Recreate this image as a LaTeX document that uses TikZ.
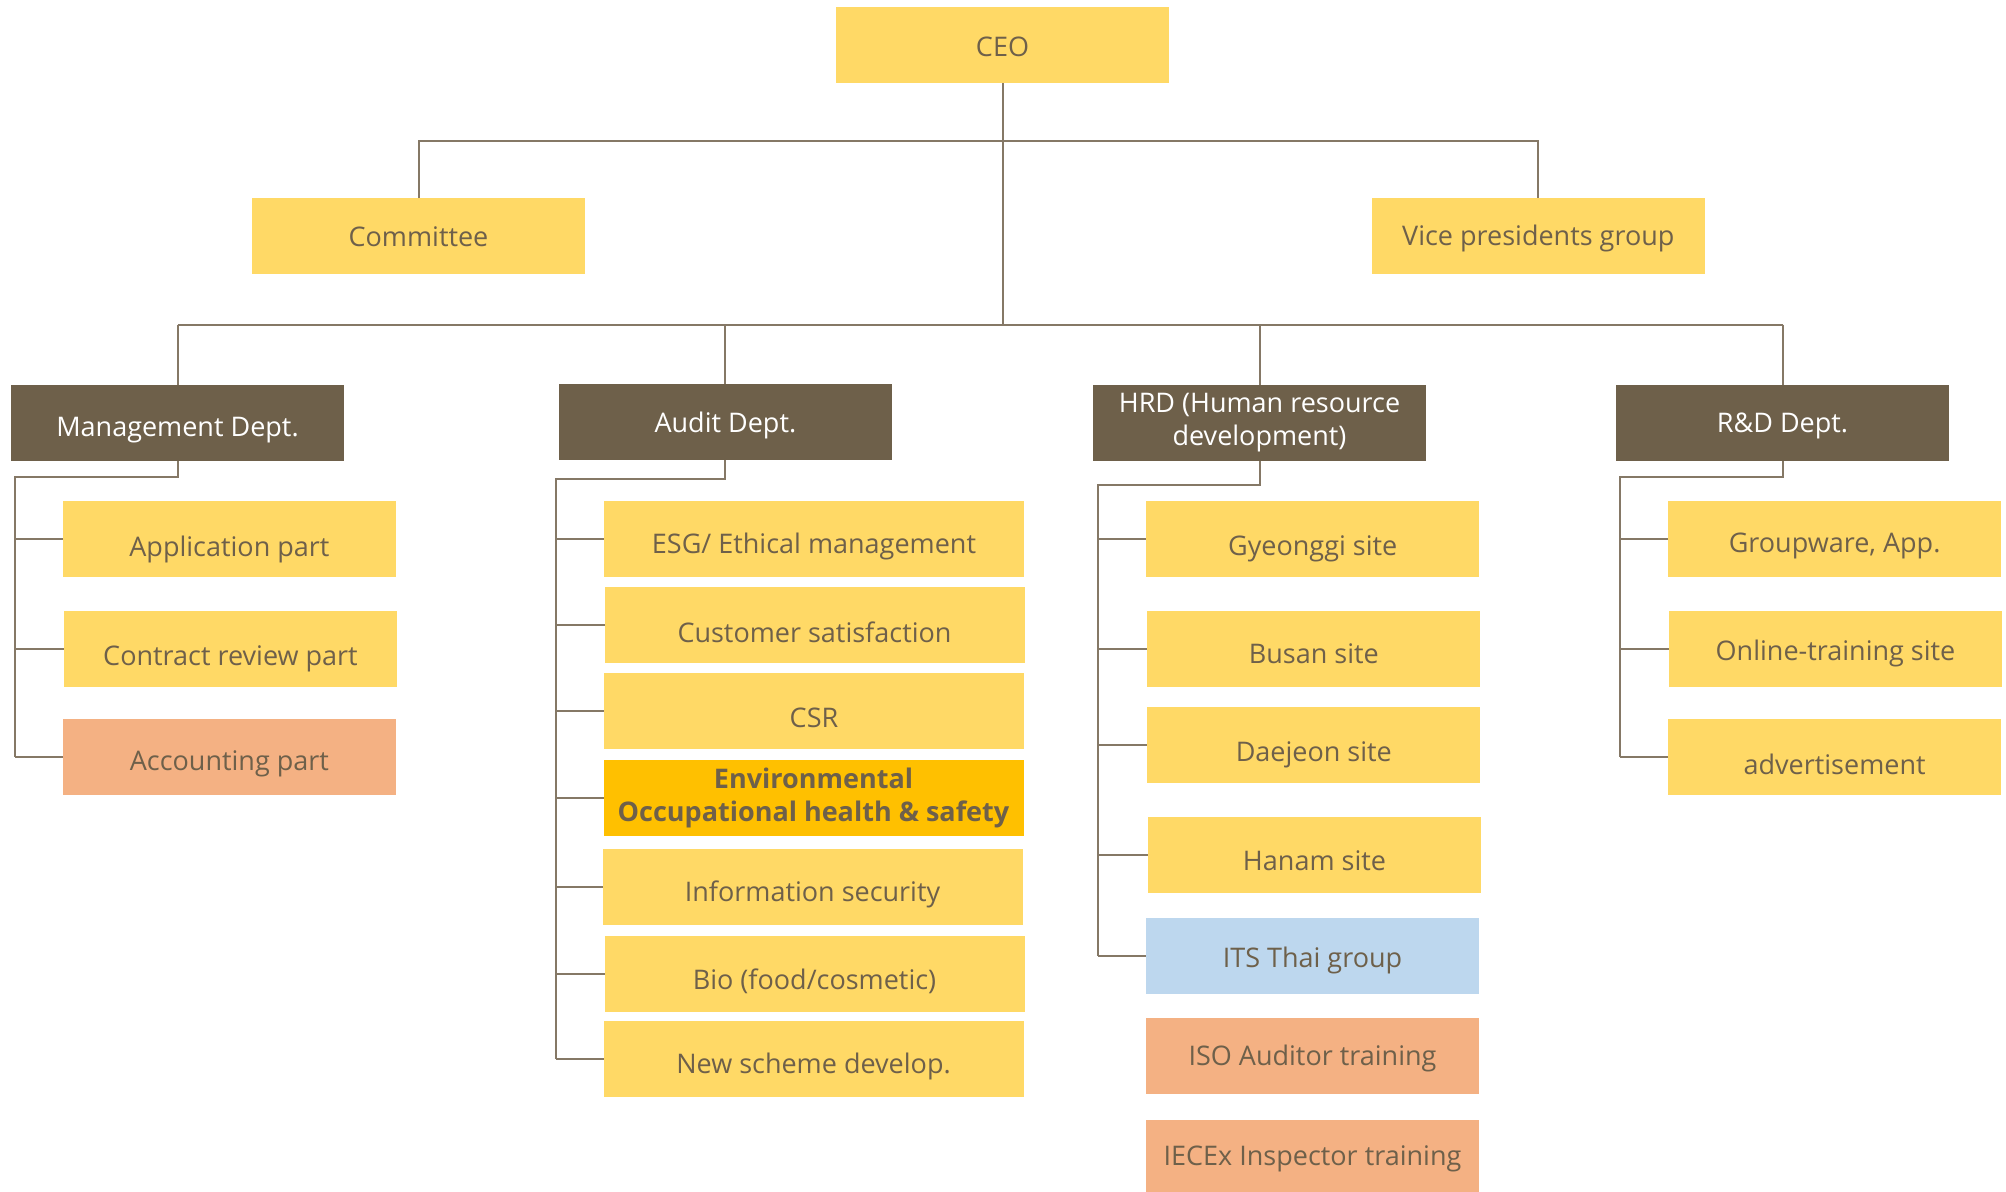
\documentclass[tikz,border=0pt]{standalone}
\usepackage{fontspec}
\setmainfont{Open Sans}
\definecolor{yel}{HTML}{FFD966}
\definecolor{org}{HTML}{F4B183}
\definecolor{amb}{HTML}{FFC000}
\definecolor{blu}{HTML}{BDD7EE}
\definecolor{brn}{HTML}{6E604A}
\definecolor{txt}{HTML}{6E604A}
\definecolor{ln}{HTML}{857866}
\begin{document}
\begin{tikzpicture}[x=0.5pt,y=-0.5pt,
  box/.style={minimum width=166.5pt, minimum height=38pt, inner sep=0pt, outer sep=0pt, fill=yel},
  wbox/.style={box, minimum width=210pt},
  dept/.style={box, fill=brn},
  conn/.style={draw=ln, line width=1pt},
  fnt/.style={font=\fontsize{13.5}{16.5}\selectfont, align=center, inner sep=0pt},
  lbl/.style={fnt, text=txt, yshift=-3.5pt},
  lblc/.style={fnt, text=txt, yshift=-1pt},
  lblw/.style={fnt, text=white, yshift=-1pt},
  lblb/.style={fnt, text=txt, font=\bfseries\fontsize{13.5}{16.5}\selectfont}
]
\useasboundingbox (0,0) rectangle (2006,1191);
% top
\node[box, label={[lblc]center:CEO}] (ceo) at (1002.5,45) {};
\node[box, label={[lblc,yshift=0.5pt]center:Committee}] (com) at (418.5,236) {};
\node[box, label={[lblc]center:Vice presidents group}] (vp) at (1538.3,236) {};
% departments
\node[dept, label={[lblw,yshift=-2.5pt]center:Management Dept.}] (mgmt) at (177.5,423) {};
\node[dept, label={[lblw,yshift=-0.5pt]center:Audit Dept.}] (aud) at (725.4,422) {};
\node[dept, label={[lblw,yshift=1pt]center:HRD (Human resource\\development)}] (hrd) at (1259.5,423) {};
\node[dept, label={[lblw,yshift=-0.5pt]center:R\&D Dept.}] (rd) at (1782.5,423) {};
% management children
\node[box, label={[lbl,yshift=-1.5pt]center:Application part}] (app) at (229.4,539) {};
\node[box, label={[lbl,yshift=-1.5pt]center:Contract review part}] (con) at (230.5,649) {};
\node[box, fill=org, label={[lbl]center:Accounting part}] (acc) at (229.4,757) {};
% audit children
\node[wbox, label={[lbl]center:ESG/ Ethical management}] (esg) at (814,539.3) {};
\node[wbox, label={[lbl]center:Customer satisfaction}] (cus) at (814.5,625) {};
\node[wbox, label={[lbl]center:CSR}] (csr) at (814,711) {};
\node[wbox, fill=amb, label={[lblb]center:Environmental\\Occupational health \& safety}] (env) at (813.5,798) {};
\node[wbox, label={[lbl]center:Information security}] (inf) at (812.5,887) {};
\node[wbox, label={[lbl]center:Bio (food/cosmetic)}] (bio) at (814.5,974) {};
\node[wbox, label={[lbl]center:New scheme develop.}] (new) at (813.5,1059) {};
% HRD children
\node[box, label={[lbl,yshift=-1.5pt]center:Gyeonggi site}] (gye) at (1312.7,539) {};
\node[box, label={[lbl,yshift=1pt]center:Busan site}] (bus) at (1313.8,649) {};
\node[box, label={[lbl,yshift=-1.5pt]center:Daejeon site}] (dae) at (1313.8,745) {};
\node[box, label={[lbl,yshift=0.5pt]center:Hanam site}] (han) at (1314.5,855) {};
\node[box, fill=blu, label={[lblc,yshift=-1pt]center:ITS Thai group}] (its) at (1312.5,956) {};
\node[box, fill=org, label={[lblc]center:ISO Auditor training}] (iso) at (1312.5,1056) {};
\node[box, fill=org, minimum height=36pt, label={[lblc,yshift=-0.5pt]center:IECEx Inspector training}] (iec) at (1312.5,1156) {};
% R&D children
\node[box, label={[lblc,yshift=-2.5pt]center:Groupware, App.}] (grp) at (1834.6,539) {};
\node[box, label={[lblc,yshift=-1pt]center:Online-training site}] (onl) at (1835.5,649) {};
\node[box, label={[lbl]center:advertisement}] (adv) at (1834.6,757) {};
% bus coordinates
\coordinate (b1) at (0,141);
\coordinate (b2) at (0,324.5);
\coordinate (ms) at (14.7,477);
\coordinate (as) at (556,479);
\coordinate (hs) at (1098.3,485);
\coordinate (rs) at (1620.3,477);
% top connectors
\draw[conn] (ceo.south) -- (ceo.south |- b2);
\draw[conn] (com.north) -- (com.north |- b1) -- (vp.north |- b1) -- (vp.north);
\draw[conn] (mgmt.north |- b2) -- (rd.north |- b2);
\foreach \d in {mgmt,aud,hrd,rd} \draw[conn] (\d.north |- b2) -- (\d.north);
% department spines
\draw[conn] (mgmt.south) |- (ms) -- (ms |- acc.west);
\foreach \c in {app,con,acc} \draw[conn] (ms |- \c.west) -- (\c.west);
\draw[conn] (aud.south) |- (as) -- (as |- new.west);
\foreach \c in {esg,cus,csr,env,inf,bio,new} \draw[conn] (as |- \c.west) -- (\c.west);
\draw[conn] (hrd.south) |- (hs) -- (hs |- its.west);
\foreach \c in {gye,bus,dae,han,its} \draw[conn] (hs |- \c.west) -- (\c.west);
\draw[conn] (rd.south) |- (rs) -- (rs |- adv.west);
\foreach \c in {grp,onl,adv} \draw[conn] (rs |- \c.west) -- (\c.west);
\end{tikzpicture}
\end{document}
